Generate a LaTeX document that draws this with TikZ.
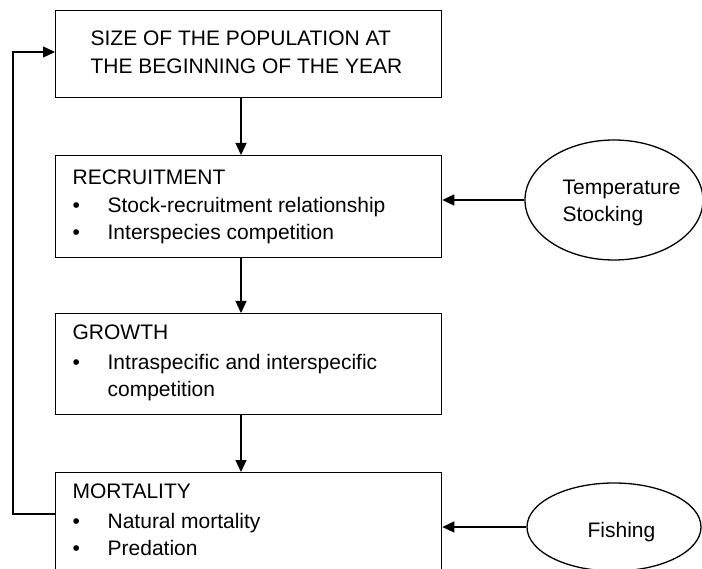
\documentclass[tikz,border=0pt]{standalone}
\usepackage{fontspec}
\setmainfont{Liberation Sans}
\usetikzlibrary{arrows.meta,shapes.geometric}
\begin{document}
\begin{tikzpicture}[x=1pt,y=-1pt,line width=1.3pt,
  box/.style={draw, rectangle, minimum width=386pt, anchor=north west, inner sep=0pt},
  txt/.style={anchor=base west, inner sep=0pt, font=\fontsize{21}{24}\selectfont},
  oval/.style={draw, ellipse, inner sep=0pt},
  arr/.style={-{Triangle[length=12pt,width=11pt]}}]
\useasboundingbox (0,0) rectangle (702,569);
\clip (0,0) rectangle (702,569);
% boxes
\node[box, minimum height=87pt]  (top)  at (55,10)  {};
\node[box, minimum height=102pt] (rec)  at (55,155) {};
\node[box, minimum height=101pt] (gro)  at (55,313) {};
\node[box, minimum height=120pt] (mor)  at (55,472) {};
% ellipses
\node[oval, minimum width=178pt, minimum height=120pt] (temp) at (614,200) {};
\node[oval, minimum width=174pt, minimum height=88pt]  (fish) at (614,527) {};
% texts
\node[txt] (t1) at (90,46) {SIZE OF THE POPULATION AT};
\node[txt] (t2) at (90,74) {THE BEGINNING OF THE YEAR};
\node[txt] (r0) at (72,185) {RECRUITMENT};
\node[txt] (r1b) at (72,213) {\textbullet};
\node[txt] (r1) at (107,213) {Stock-recruitment relationship};
\node[txt] (r2b) at (72,240) {\textbullet};
\node[txt] (r2) at (107,240) {Interspecies competition};
\node[txt] (g0) at (72,340) {GROWTH};
\node[txt] (g1b) at (72,370) {\textbullet};
\node[txt] (g1) at (107,370) {Intraspecific and interspecific};
\node[txt] (g2) at (107,397) {competition};
\node[txt] (m0) at (72,498) {MORTALITY};
\node[txt] (m1b) at (72,528) {\textbullet};
\node[txt] (m1) at (107,528) {Natural mortality};
\node[txt] (m2b) at (72,555) {\textbullet};
\node[txt] (m2) at (107,555) {Predation};
\node[txt] (e1) at (562,195) {Temperature};
\node[txt] (e2) at (562,222) {Stocking};
\node[txt] (f1) at (587,537) {Fishing};
% connectors
\draw[arr] (top.south -| 241,0) -- (rec.north -| 241,0);
\draw[arr] (rec.south -| 241,0) -- (gro.north -| 241,0);
\draw[arr] (gro.south -| 241,0) -- (mor.north -| 241,0);
\draw[arr] (temp.west) -- (temp.west -| rec.east);
\draw[arr] (fish.west) -- (fish.west -| mor.east);
\coordinate (fb1) at (13,514);
\coordinate (fb2) at (13,52);
\draw[arr] (mor.west |- fb1) -- (fb1) -- (fb2) -- (fb2 -| top.west);
\end{tikzpicture}
\end{document}
